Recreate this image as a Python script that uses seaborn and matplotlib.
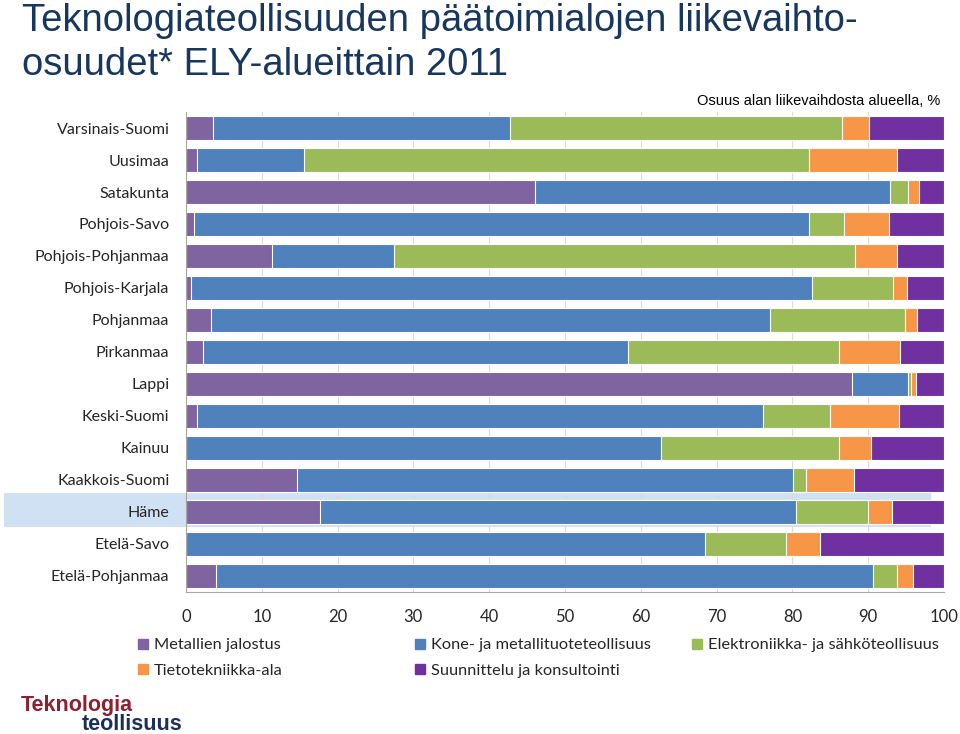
import matplotlib
matplotlib.use("Agg")
import matplotlib.pyplot as plt
from matplotlib import font_manager
from matplotlib.patches import Rectangle
from matplotlib.lines import Line2D
import pandas as pd
import seaborn as sns
import numpy as np

# Regions, top to bottom
regions = [
    "Varsinais-Suomi", "Uusimaa", "Satakunta", "Pohjois-Savo", "Pohjois-Pohjanmaa",
    "Pohjois-Karjala", "Pohjanmaa", "Pirkanmaa", "Lappi", "Keski-Suomi",
    "Kainuu", "Kaakkois-Suomi", "Häme", "Etelä-Savo", "Etelä-Pohjanmaa",
]

# Share of turnover per sector (%)
metallien = [3.5, 1.4, 46.0, 1.0, 11.3, 0.7, 3.3, 2.3, 87.8, 1.4, 0.0, 14.6, 17.7, 0.0, 3.9]
kone = [39.3, 14.2, 46.9, 81.2, 16.1, 81.9, 73.8, 56.0, 7.5, 74.7, 62.6, 65.5, 62.8, 68.5, 86.7]
elektroniikka = [43.8, 66.6, 2.3, 4.6, 60.9, 10.7, 17.8, 27.8, 0.3, 8.9, 23.6, 1.7, 9.5, 10.6, 3.2]
tietotekniikka = [3.5, 11.6, 1.5, 5.9, 5.5, 1.8, 1.6, 8.1, 0.7, 9.0, 4.2, 6.3, 3.2, 4.6, 2.1]
suunnittelu = [9.9, 6.2, 3.3, 7.3, 6.2, 4.9, 3.5, 5.8, 3.7, 6.0, 9.6, 11.9, 6.8, 16.3, 4.1]

sectors = [
    "Metallien jalostus",
    "Kone- ja metallituoteteollisuus",
    "Elektroniikka- ja sähköteollisuus",
    "Tietotekniikka-ala",
    "Suunnittelu ja konsultointi",
]
colors = ["#8064A2", "#4F81BD", "#9BBB59", "#F79646", "#7030A0"]

df = pd.DataFrame({
    "Alue": regions,
    sectors[0]: metallien,
    sectors[1]: kone,
    sectors[2]: elektroniikka,
    sectors[3]: tietotekniikka,
    sectors[4]: suunnittelu,
})
cum = df[sectors].cumsum(axis=1)

sns.set_style("white")
plt.rcParams["font.family"] = ["Lato", "DejaVu Sans"]

fig = plt.figure(figsize=(9.6, 7.34), dpi=100)
ax = fig.add_axes([0.19375, 0.1935, 0.7896, 0.6539])

# Stacked bars: draw cumulative totals, widest first
for sector, color in reversed(list(zip(sectors, colors))):
    sns.barplot(
        x=cum[sector], y=df["Alue"], orient="h", color=color, saturation=1,
        width=0.75, edgecolor="white", linewidth=0.8, errorbar=None, ax=ax,
    )

# Highlight for Häme
ax.add_patch(Rectangle((-24, 11.41), 122.3, 1.06, facecolor="#CFE1F2",
                       edgecolor="none", clip_on=False, zorder=0.3))

ax.set_xlim(0, 100)
ax.set_ylim(14.5, -0.5)
ax.set_xticks(np.arange(0, 101, 10))
ax.set_xlabel("")
ax.set_ylabel("")
ax.set_axisbelow(True)
ax.xaxis.grid(True, color="#D9D9D9", linewidth=0.8)
ax.set_yticks(np.arange(-0.5, 15, 1), minor=True)
ax.tick_params(axis="y", which="major", length=0, pad=12, labelsize=11.5)
ax.tick_params(axis="y", which="minor", length=5, color="#A6A6A6", width=0.8)
ax.tick_params(axis="x", which="major", direction="inout", length=8,
               color="#A6A6A6", width=0.8, labelsize=12, pad=8)
for s in ["top", "right"]:
    ax.spines[s].set_visible(False)
for s in ["left", "bottom"]:
    ax.spines[s].set_color("#A6A6A6")
    ax.spines[s].set_linewidth(0.8)

# Title
fig.text(22 / 960, 1 - 3 / 734,
         "Teknologiateollisuuden päätoimialojen liikevaihto-\nosuudet* ELY-alueittain 2011",
         ha="left", va="top", fontsize=27.5, color="#17375E",
         family=["Liberation Sans", "DejaVu Sans"], linespacing=1.3)

# Axis caption, narrow font if there is one
try:
    font_manager.findfont("Liberation Sans Narrow", fallback_to_default=False)
    cap_family, cap_size = ["Liberation Sans Narrow", "DejaVu Sans"], 12.5
except ValueError:
    cap_family, cap_size = ["Liberation Sans", "DejaVu Sans"], 10.5
fig.text(940 / 960, 1 - 101 / 734, "Osuus alan liikevaihdosta alueella, %",
         ha="right", va="center", fontsize=cap_size, color="black", family=cap_family)

# Legend, one column at a time
handles = [Line2D([], [], marker="s", linestyle="none", markersize=7,
                  markerfacecolor=c, markeredgecolor=c) for c in colors]
columns = [([0, 3], 138), ([1, 4], 415), ([2], 692)]
for idx, xpx in columns:
    fig.legend([handles[i] for i in idx], [sectors[i] for i in idx],
               loc="upper left", bbox_to_anchor=(xpx / 960, 1 - 638 / 734),
               frameon=False, fontsize=11.8, handlelength=0.6, handletextpad=0.35,
               labelspacing=0.65, borderaxespad=0, borderpad=0)

# Logo text
fig.text(21 / 960, 1 - 706 / 734, "Teknologia", ha="left", va="center",
         fontsize=15.5, fontweight="bold", color="#8B2232",
         family=["Liberation Sans", "DejaVu Sans"])
fig.text(82 / 960, 1 - 725 / 734, "teollisuus", ha="left", va="center",
         fontsize=15.5, fontweight="bold", color="#1B2F5E",
         family=["Liberation Sans", "DejaVu Sans"])

fig.savefig("out.png", dpi=100)
plt.close(fig)
